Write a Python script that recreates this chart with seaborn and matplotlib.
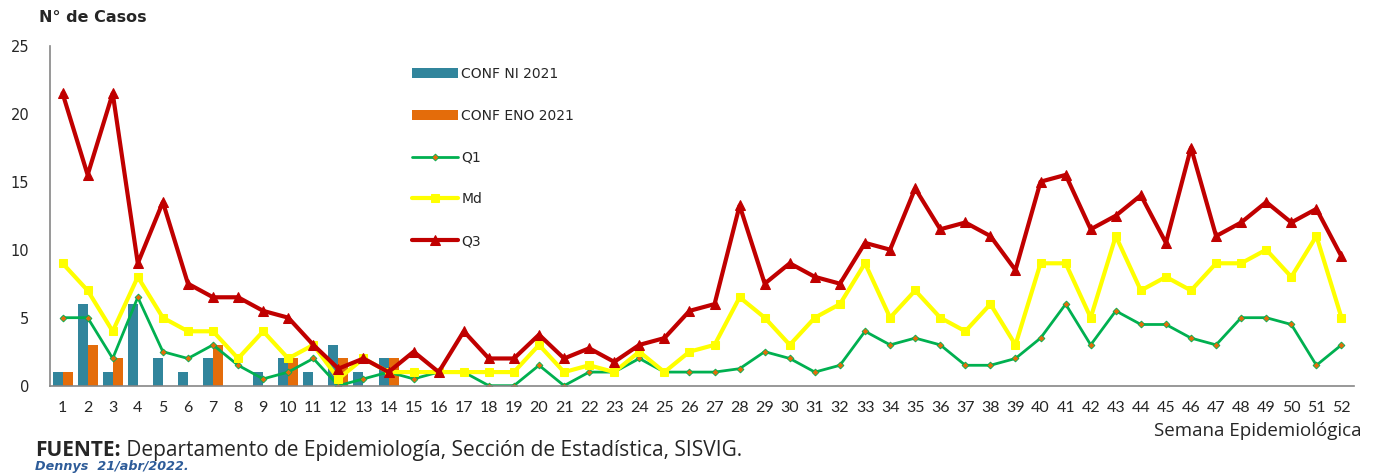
import pandas as pd
import matplotlib.pyplot as plt
import seaborn as sns

# semanas epidemiologicas 1..52
weeks = list(range(1, 53))

conf_ni = [1, 6, 1, 6, 2, 1, 2, 0, 1, 2, 1, 3, 1, 2, 0, 0, 0, 0, 0, 0, 0, 0, 0, 0, 0, 0,
           0, 0, 0, 0, 0, 0, 0, 0, 0, 0, 0, 0, 0, 0, 0, 0, 0, 0, 0, 0, 0, 0, 0, 0, 0, 0]
conf_eno = [1, 3, 2, 0, 0, 0, 3, 0, 0, 2, 0, 2, 0, 2, 0, 0, 0, 0, 0, 0, 0, 0, 0, 0, 0, 0,
            0, 0, 0, 0, 0, 0, 0, 0, 0, 0, 0, 0, 0, 0, 0, 0, 0, 0, 0, 0, 0, 0, 0, 0, 0, 0]

q1 = [5, 5, 2, 6.5, 2.5, 2, 3, 1.5, 0.5, 1, 2, 0, 0.5, 1, 0.5, 1, 1, 0, 0, 1.5, 0, 1, 1, 2, 1, 1,
      1, 1.25, 2.5, 2, 1, 1.5, 4, 3, 3.5, 3, 1.5, 1.5, 2, 3.5, 6, 3, 5.5, 4.5, 4.5, 3.5, 3, 5, 5, 4.5, 1.5, 3]
md = [9, 7, 4, 8, 5, 4, 4, 2, 4, 2, 3, 0.5, 2, 1, 1, 1, 1, 1, 1, 3, 1, 1.5, 1, 2.5, 1, 2.5,
      3, 6.5, 5, 3, 5, 6, 9, 5, 7, 5, 4, 6, 3, 9, 9, 5, 11, 7, 8, 7, 9, 9, 10, 8, 11, 5]
q3 = [21.5, 15.5, 21.5, 9, 13.5, 7.5, 6.5, 6.5, 5.5, 5, 3, 1.25, 2, 1, 2.5, 1, 4, 2, 2, 3.75, 2, 2.75, 1.75, 3, 3.5, 5.5,
      6, 13.25, 7.5, 9, 8, 7.5, 10.5, 10, 14.5, 11.5, 12, 11, 8.5, 15, 15.5, 11.5, 12.5, 14, 10.5, 17.5, 11, 12, 13.5, 12, 13, 9.5]

y_ticks = [0, 5, 10, 15, 20, 25]

TEAL = "#31859C"
ORANGE = "#E46C0A"
GREEN = "#00B050"
YELLOW = "#FFFF00"
RED = "#C00000"
AXIS = "#868686"

sns.set_style("white")
plt.rcParams["font.family"] = ["DejaVu Sans"]

bars = pd.DataFrame({
    "week": weeks * 2,
    "value": conf_ni + conf_eno,
    "series": ["CONF NI 2021"] * len(weeks) + ["CONF ENO 2021"] * len(weeks),
})

fig = plt.figure(figsize=(13.78, 4.73), dpi=100)
ax = fig.add_axes([0.0363, 0.1846, 0.9463, 0.7188])

sns.barplot(data=bars, x="week", y="value", hue="series", native_scale=True,
            palette=[TEAL, ORANGE], width=0.8, saturation=1, errorbar=None,
            linewidth=0, ax=ax)

sns.lineplot(x=weeks, y=q1, ax=ax, color=GREEN, lw=2, marker="D", markersize=3.5,
             markerfacecolor=ORANGE, markeredgecolor=GREEN, markeredgewidth=0.6, label="Q1")
sns.lineplot(x=weeks, y=md, ax=ax, color=YELLOW, lw=3, marker="s", markersize=6,
             markerfacecolor=YELLOW, markeredgecolor=YELLOW, label="Md")
sns.lineplot(x=weeks, y=q3, ax=ax, color=RED, lw=3, marker="^", markersize=7,
             markerfacecolor=RED, markeredgecolor=RED, label="Q3")

ax.set_xlim(0.5, 52.5)
ax.set_ylim(0, 25)
ax.set_xlabel("")
ax.set_ylabel("")

# axes styling
for side in ["top", "right"]:
    ax.spines[side].set_visible(False)
for side in ["left", "bottom"]:
    ax.spines[side].set_color(AXIS)
    ax.spines[side].set_linewidth(1.2)

ax.set_xticks(weeks)
ax.set_xticklabels([str(w) for w in weeks], family="Lato", fontsize=11.5)
ax.set_xticks([w - 0.5 for w in weeks] + [52.5], minor=True)
ax.tick_params(axis="x", which="major", length=0, pad=11)
ax.tick_params(axis="x", which="minor", length=5, width=1, color=AXIS, direction="out")
ax.set_yticks(y_ticks)
ax.tick_params(axis="y", length=5, width=1, color=AXIS, direction="out", pad=10, labelsize=10.5)
ax.grid(False)

handles, labels = ax.get_legend_handles_labels()
order = ["CONF NI 2021", "CONF ENO 2021", "Q1", "Md", "Q3"]
hmap = dict(zip(labels, handles))
ax.legend([hmap[k] for k in order], order, loc="upper left",
          bbox_to_anchor=(412 / 1378, 1 - 67 / 473), bbox_transform=fig.transFigure,
          frameon=False, fontsize=10, handlelength=3.3, handleheight=0.75,
          handletextpad=0.25, labelspacing=2.0, borderpad=0, borderaxespad=0)

fig.text(39 / 1378, 1 - 17 / 473, "N° de Casos", fontsize=11.5, fontweight="bold",
         ha="left", va="center")
fig.text(1362 / 1378, 1 - 431 / 473, "Semana Epidemiológica", family="Open Sans",
         fontsize=13.5, ha="right", va="center")

t1 = fig.text(35 / 1378, 1 - 450 / 473, "FUENTE:", family="Open Sans", fontsize=15,
              fontweight="bold", ha="left", va="center")
ax.annotate(" Departamento de Epidemiología, Sección de Estadística, SISVIG.",
            xy=(1, 0), xycoords=t1, ha="left", va="bottom", family="Open Sans",
            fontsize=15, annotation_clip=False)
fig.text(35 / 1378, 1 - 466 / 473, "Dennys  21/abr/2022.", family="DejaVu Sans",
         fontsize=9.2, fontweight="bold", fontstyle="italic", color="#2E5C99",
         ha="left", va="center")

fig.savefig("out.png", dpi=100)
